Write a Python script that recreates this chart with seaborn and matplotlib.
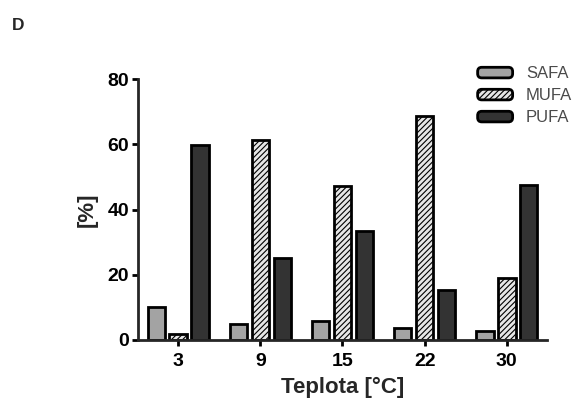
import matplotlib
matplotlib.use("Agg")
import matplotlib.pyplot as plt
import seaborn as sns
import pandas as pd
from matplotlib.patches import Patch, FancyBboxPatch
from matplotlib.legend_handler import HandlerPatch

temps = ["3", "9", "15", "22", "30"]
series = ["SAFA", "MUFA", "PUFA"]
safa = [10.0, 4.8, 5.8, 3.8, 2.9]
mufa = [1.8, 61.2, 47.1, 68.7, 18.9]
pufa = [59.7, 25.2, 33.5, 15.3, 47.5]
yticks = [0, 20, 40, 60, 80]

colors = {"SAFA": "#a3a3a3", "MUFA": "#e6e6e6", "PUFA": "#333333"}

rows = []
for name, vals in zip(series, [safa, mufa, pufa]):
    for t, v in zip(temps, vals):
        rows.append({"Teplota": t, "Serie": name, "Value": v})
df = pd.DataFrame(rows)

sns.set_style("ticks")
plt.rcParams["font.family"] = ["Liberation Sans", "DejaVu Sans"]
plt.rcParams["hatch.color"] = "#555555"
plt.rcParams["hatch.linewidth"] = 0.8

fig = plt.figure(figsize=(5.81, 4.0), dpi=100)
ax = fig.add_axes([0.2375, 0.15, 0.704, 0.6525])

sns.barplot(data=df, x="Teplota", y="Value", hue="Serie", order=temps,
            hue_order=series, palette=colors, width=0.8, gap=0.2,
            edgecolor="black", linewidth=2, saturation=1, ax=ax, legend=False)

n = len(temps)
for i, patch in enumerate(ax.patches[:3 * n]):
    if i // n == 1:
        patch.set_hatch("//////")

ax.set_xlim(-0.49, 4.49)
ax.set_ylim(0, 80)
ax.set_yticks(yticks)
ax.set_yticklabels([str(v) for v in yticks], fontweight="bold", fontsize=14)
ax.set_xticklabels(temps, fontweight="bold", fontsize=14)
ax.set_xlabel("Teplota [°C]", fontweight="bold", fontsize=16, labelpad=5)
ax.set_ylabel("[%]", fontweight="bold", fontsize=16, labelpad=7)

for s in ["top", "right"]:
    ax.spines[s].set_visible(False)
for s in ["left", "bottom"]:
    ax.spines[s].set_linewidth(2)
ax.tick_params(axis="both", direction="out", length=4.5, width=2, colors="black")
ax.tick_params(axis="y", pad=2)
ax.tick_params(axis="x", pad=5)


class RoundHandler(HandlerPatch):
    def create_artists(self, legend, orig_handle, xdescent, ydescent,
                       width, height, fontsize, trans):
        p = FancyBboxPatch((-xdescent, -ydescent), width, height,
                           boxstyle="round,pad=0,rounding_size=3",
                           facecolor=orig_handle.get_facecolor(),
                           edgecolor="black", linewidth=2,
                           hatch=orig_handle.get_hatch(), transform=trans)
        return [p]


handles = [Patch(facecolor=colors[s], edgecolor="black", linewidth=2,
                 hatch="//////" if s == "MUFA" else None) for s in series]
leg = ax.legend(handles, series, loc="center left", bbox_to_anchor=(0.81, 0.935),
                frameon=False, fontsize=12, handlelength=2.1, handleheight=0.6,
                labelspacing=0.42, handletextpad=0.8, borderpad=0,
                handler_map={Patch: RoundHandler()})
for t in leg.get_texts():
    t.set_color("#4a4a4a")

fig.text(0.021, 0.925, "D", fontweight="bold", fontsize=12.5)

fig.savefig("out.png", dpi=100)
